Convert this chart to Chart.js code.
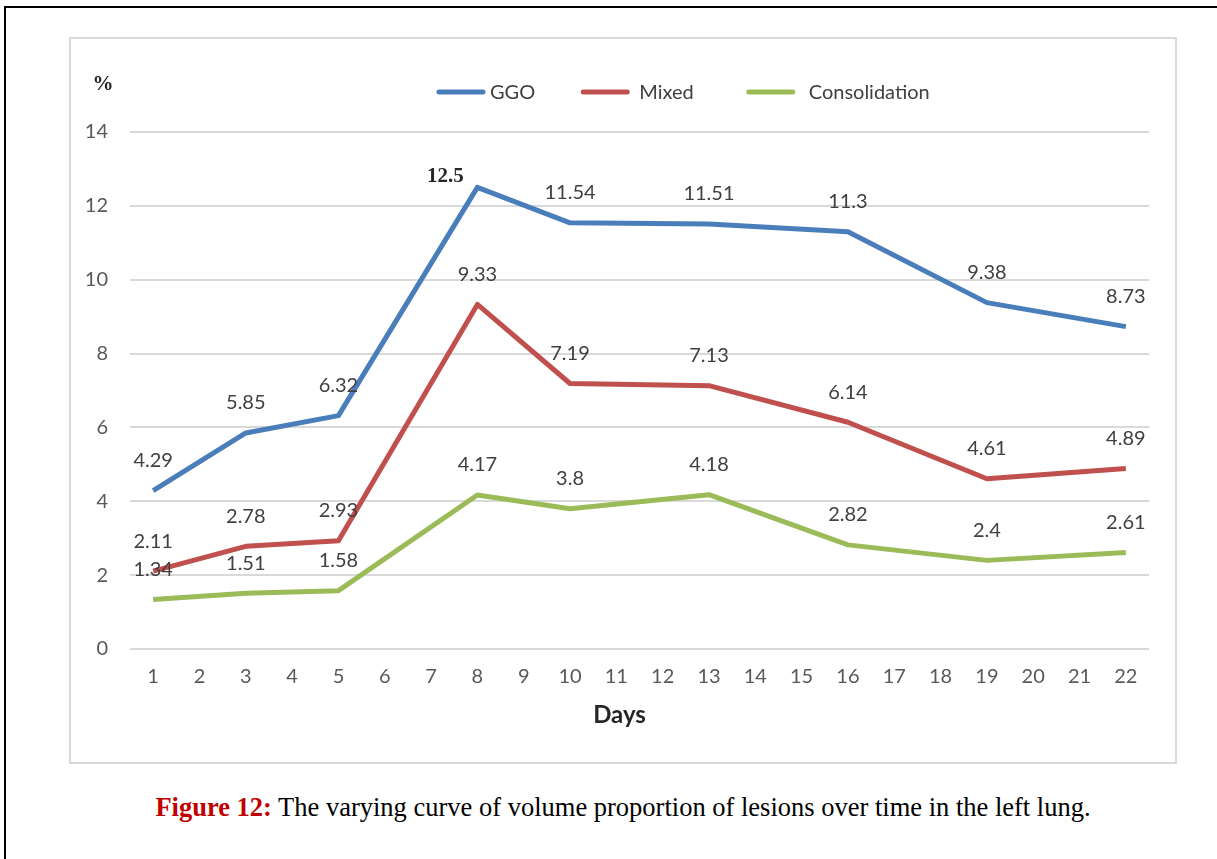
<!DOCTYPE html>
<html>
<head>
<meta charset="utf-8">
<script src="https://cdn.jsdelivr.net/npm/chart.js@4.4.0/dist/chart.umd.min.js"></script>
<style>
  html, body { margin: 0; padding: 0; background: #fff; overflow: hidden; }
  body { width: 1217px; height: 859px; position: relative; }
  #page { position: absolute; left: 4px; top: 6px; width: 1260px; height: 900px; border: 2px solid #000; box-sizing: border-box; }
  #box { position: absolute; left: 69px; top: 37px; width: 1108px; height: 727px; border: 2px solid #d9d9d9; box-sizing: border-box; }
  #caption { position: absolute; left: 69px; top: 792px; width: 1108px; text-align: center;
    font-family: "Liberation Serif", "Times New Roman", serif; font-size: 26.5px; color: #000; }
  #caption b { color: #c00000; }
</style>
</head>
<body>
<div id="page"></div>
<div id="box"><canvas id="myLineChart" width="1104" height="723"></canvas></div>
<div id="caption"><b>Figure 12:</b> The varying curve of volume proportion of lesions over time in the left lung.</div>
<script>
// dias (eje X)
var days = ['1', '2', '3', '4', '5', '6', '7', '8', '9', '10', '11', '12', '13', '14', '15', '16', '17', '18', '19', '20', '21', '22'];
// valores por serie (null = sin medicion)
var ggo = [4.29, null, 5.85, null, 6.32, null, null, 12.5, null, 11.54, null, null, 11.51, null, null, 11.3, null, null, 9.38, null, null, 8.73];
var mixed = [2.11, null, 2.78, null, 2.93, null, null, 9.33, null, 7.19, null, null, 7.13, null, null, 6.14, null, null, 4.61, null, null, 4.89];
var consolidation = [1.34, null, 1.51, null, 1.58, null, null, 4.17, null, 3.8, null, null, 4.18, null, null, 2.82, null, null, 2.4, null, null, 2.61];
var seriesNames = ['GGO', 'Mixed', 'Consolidation'];
var seriesColors = ['#4a7ebb', '#c0504d', '#9bbb59'];
var yTicks = [0, 2, 4, 6, 8, 10, 12, 14];

var FONT = 'Lato, "Noto Sans", sans-serif';

// etiquetas de valores encima de cada punto
var valueLabels = {
  id: 'valueLabels',
  afterDatasetsDraw: function (chart) {
    var ctx = chart.ctx;
    ctx.save();
    ctx.textAlign = 'center';
    ctx.textBaseline = 'middle';
    chart.data.datasets.forEach(function (ds, i) {
      var meta = chart.getDatasetMeta(i);
      meta.data.forEach(function (pt, j) {
        var v = ds.data[j];
        if (v === null) return;
        if (i === 0 && j === 7) {
          // el 12.5 va en otra fuente, a la izquierda
          ctx.font = 'bold 21px "Liberation Serif", serif';
          ctx.fillStyle = '#262626';
          ctx.fillText(String(v), pt.x - 32, pt.y - 11);
          return;
        }
        ctx.font = '20px ' + FONT;
        ctx.fillStyle = '#404040';
        ctx.fillText(String(v), pt.x, pt.y - 30);
      });
    });
    ctx.restore();
  }
};

// leyenda, simbolo % y titulo "Days" dibujados a mano
var topDecor = {
  id: 'topDecor',
  afterDraw: function (chart) {
    var ctx = chart.ctx;
    var area = chart.chartArea;
    ctx.save();
    ctx.font = 'bold 21px "Liberation Serif", serif';
    ctx.fillStyle = '#262626';
    ctx.textAlign = 'center';
    ctx.textBaseline = 'middle';
    ctx.fillText('%', 32, 46);

    ctx.font = 'bold 24px ' + FONT;
    ctx.fillStyle = '#262626';
    ctx.fillText('Days', (area.left + area.right) / 2 - 20, 676);

    ctx.font = '20px ' + FONT;
    ctx.textAlign = 'left';
    var x = 366, y = 53;
    var textGap = [53, 58, 62];
    var gaps = [46, 53, 0];
    seriesNames.forEach(function (name, i) {
      ctx.strokeStyle = seriesColors[i];
      ctx.lineWidth = 5;
      ctx.lineCap = 'round';
      ctx.beginPath();
      ctx.moveTo(x + 2, y);
      ctx.lineTo(x + 46, y);
      ctx.stroke();
      ctx.fillStyle = '#404040';
      ctx.fillText(name, x + textGap[i], y + 1);
      x = x + textGap[i] + ctx.measureText(name).width + gaps[i];
    });
    ctx.restore();
  }
};

var ctx = document.getElementById('myLineChart').getContext('2d');
var myLineChart = new Chart(ctx, {
  type: 'line',
  data: {
    labels: days,
    datasets: [ggo, mixed, consolidation].map(function (d, i) {
      return {
        label: seriesNames[i],
        data: d,
        borderColor: seriesColors[i],
        backgroundColor: seriesColors[i],
        borderWidth: 5,
        pointRadius: 0,
        spanGaps: true,
        tension: 0,
        borderJoinStyle: 'round'
      };
    })
  },
  options: {
    responsive: false,
    animation: false,
    layout: { padding: { top: 93, right: 26, bottom: 0, left: 0 } },
    scales: {
      x: {
        offset: true,
        grid: { display: false, drawTicks: false },
        border: { display: false },
        ticks: { color: '#595959', font: { family: FONT, size: 20 }, padding: 16, autoSkip: false, maxRotation: 0 },
        afterFit: function (scale) { scale.height = 113; }
      },
      y: {
        min: 0,
        max: 14,
        afterBuildTicks: function (scale) { scale.ticks = yTicks.map(function (v) { return { value: v }; }); },
        grid: { color: '#d9d9d9', lineWidth: 2, drawTicks: false },
        border: { display: false },
        ticks: { color: '#595959', font: { family: FONT, size: 20 }, padding: 22 },
        afterFit: function (scale) { scale.width = 59; }
      }
    },
    plugins: {
      legend: { display: false },
      tooltip: { enabled: false }
    }
  },
  plugins: [valueLabels, topDecor]
});
</script>
</body>
</html>
